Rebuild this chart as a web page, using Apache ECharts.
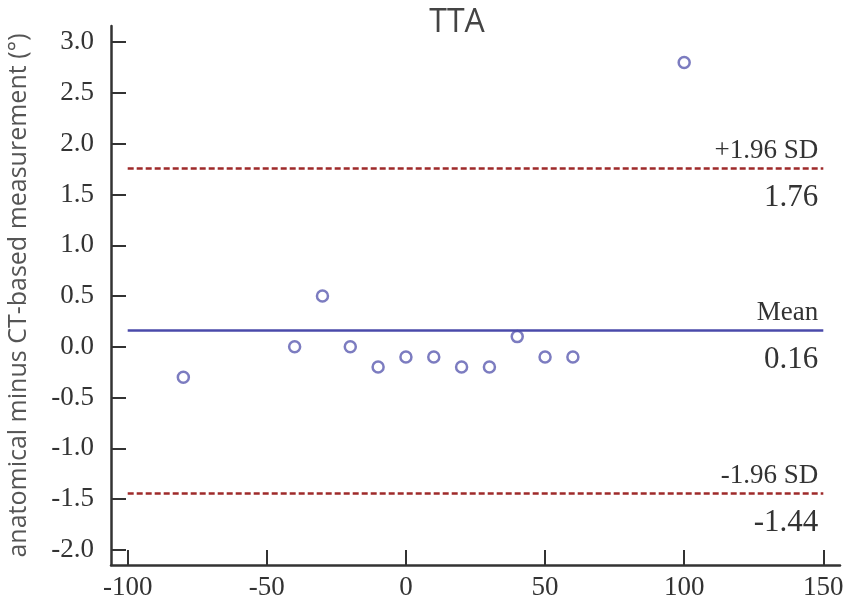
<!DOCTYPE html>
<html><head><meta charset="utf-8">
<script src="https://cdn.jsdelivr.net/npm/echarts@6/dist/echarts.min.js"></script>
<style>html,body{margin:0;padding:0;background:#fff}#c{width:851px;height:608px}</style>
</head><body><div id="c"></div>
<script>
const xValues = [-80, -40, -30, -20, -10, 0, 10, 20, 30, 40, 50, 60, 100];
const yValues = [-0.3, 0.0, 0.5, 0.0, -0.2, -0.1, -0.1, -0.2, -0.2, 0.1, -0.1, -0.1, 2.8];
const xTicks = [-100, -50, 0, 50, 100, 150];
const yTicks = [-2.0, -1.5, -1.0, -0.5, 0.0, 0.5, 1.0, 1.5, 2.0, 2.5, 3.0];
const refNames = ['+1.96 SD', 'Mean', '-1.96 SD'];
const refValues = [1.76, 0.16, -1.44];
const refX = [-100, 150];

const serif = '"Liberation Serif", "DejaVu Serif", serif';
const points = xValues.map((x, i) => [x, yValues[i]]);

const markData = [];
refValues.forEach((v, i) => {
  const isMean = refNames[i] === 'Mean';
  const ls = isMean ? {color: '#4a4aaa', width: 2.5, type: 'solid'} : {color: '#9e2a2a', width: 2.5, type: [6, 3]};
  markData.push([
    {coord: [refX[0], v], lineStyle: ls, label: {show: true, position: 'insideEndTop', formatter: refNames[i], fontFamily: serif, fontSize: 27, color: '#333', distance: [5, 4]}},
    {coord: [refX[1], v]}
  ]);
  markData.push([
    {coord: [refX[0], v], lineStyle: {color: 'rgba(0,0,0,0)', width: 0}, label: {show: true, position: 'insideEndBottom', formatter: v.toFixed(2), fontFamily: serif, fontSize: 31, color: '#333', distance: [5, 14]}},
    {coord: [refX[1], v]}
  ]);
});

const chart = echarts.init(document.getElementById('c'));
chart.setOption({
  animation: false,
  title: {text: 'TTA', left: 452, top: 2, textAlign: 'center', textStyle: {fontFamily: '"Open Sans", sans-serif', fontWeight: 'normal', fontSize: 32, color: '#444'}},
  grid: {left: 111, right: 11, top: 26, bottom: 43, outerBoundsMode: 'none', containLabel: false},
  xAxis: {
    type: 'value', min: -106, max: 156,
    axisLine: {show: true, onZero: false, lineStyle: {color: '#333', width: 2.5}},
    axisTick: {show: true, inside: true, length: 15, customValues: xTicks, lineStyle: {color: '#333', width: 2}},
    axisLabel: {customValues: xTicks, fontFamily: serif, fontSize: 27, color: '#333', margin: 9},
    splitLine: {show: false}
  },
  yAxis: {
    type: 'value', min: -2.15, max: 3.16,
    name: 'anatomical minus CT-based measurement (°)', nameLocation: 'middle', nameGap: 80,
    nameTextStyle: {fontFamily: '"Open Sans", sans-serif', fontSize: 25, color: '#555'},
    axisLine: {show: true, onZero: false, lineStyle: {color: '#333', width: 2.5}},
    axisTick: {show: true, inside: true, length: 15, customValues: yTicks, lineStyle: {color: '#333', width: 2}},
    axisLabel: {customValues: yTicks, fontFamily: serif, fontSize: 27, color: '#333', margin: 17, formatter: v => v.toFixed(1)},
    splitLine: {show: false}
  },
  series: [{
    type: 'scatter',
    data: points,
    symbol: 'circle', symbolSize: 11,
    itemStyle: {color: '#fff', borderColor: '#5b5bb0', borderWidth: 2.5},
    markLine: {silent: true, symbol: 'none', data: markData}
  }]
});
</script></body></html>
